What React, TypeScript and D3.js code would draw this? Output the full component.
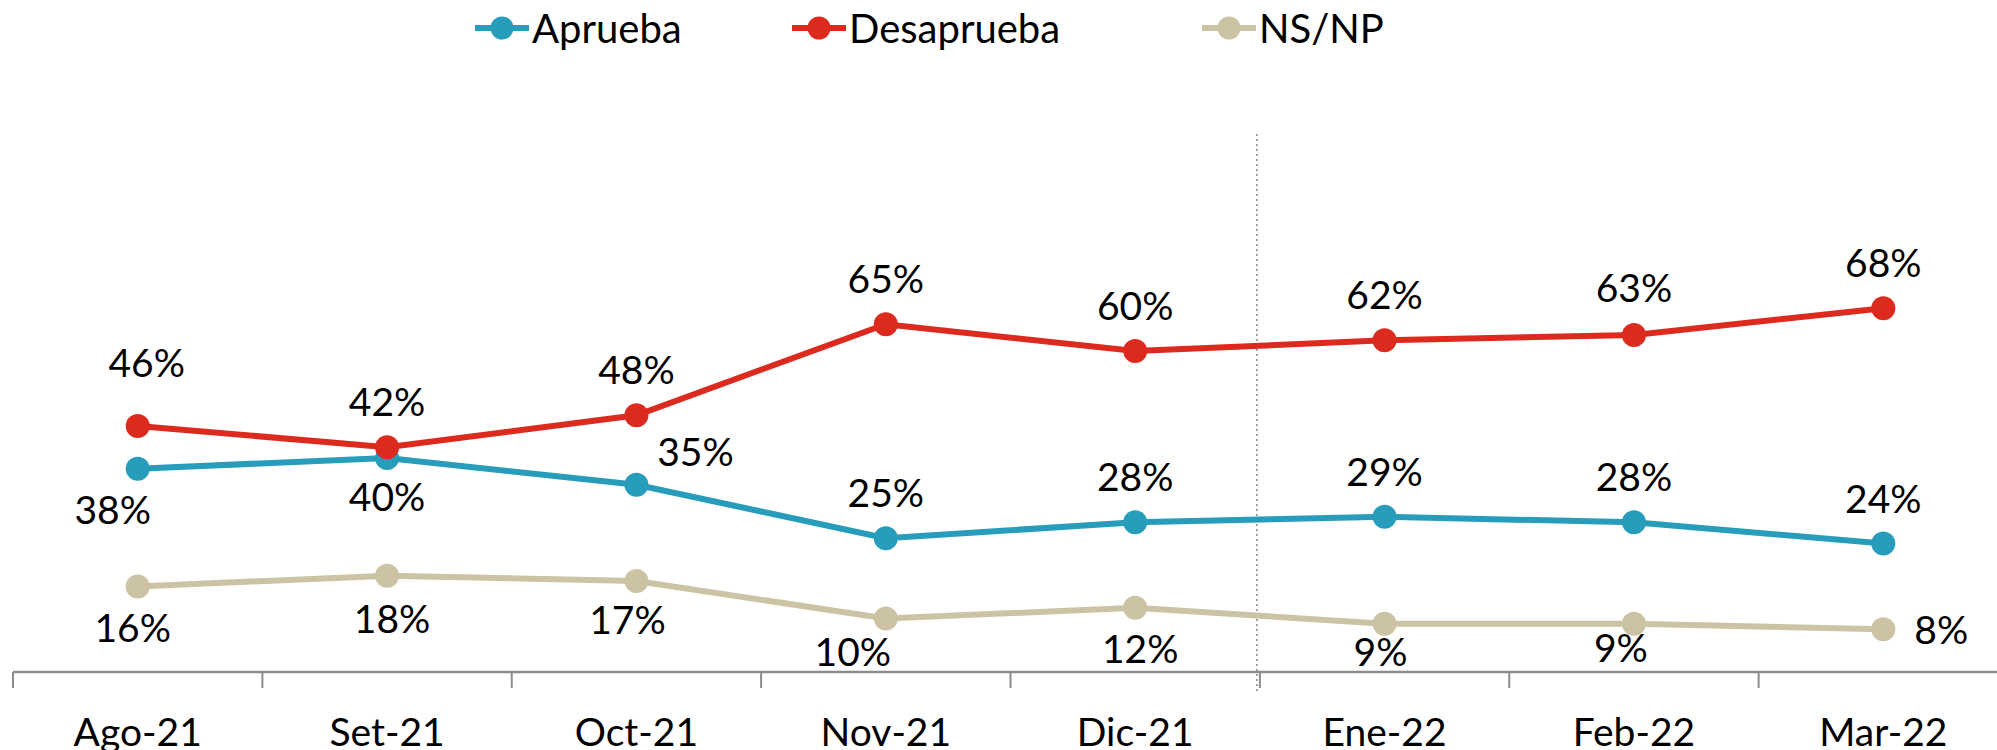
import React from "react";
import * as d3 from "d3";

const categories = ["Ago-21", "Set-21", "Oct-21", "Nov-21", "Dic-21", "Ene-22", "Feb-22", "Mar-22"];
const aprueba = [38, 40, 35, 25, 28, 29, 28, 24];
const desaprueba = [46, 42, 48, 65, 60, 62, 63, 68];
const nsnp = [16, 18, 17, 10, 12, 9, 9, 8];
const seriesNames = ["Aprueba", "Desaprueba", "NS/NP"];
const colors = ["#279cbb", "#dc2a1f", "#cbc3a3"];

// label placement offsets (dx, dy) per point
const placements = [
  [[-25, 40], [0, 38], [59, -34], [0, -46], [0, -46], [0, -46], [0, -46], [0, -46]],
  [[9, -64], [0, -46], [0, -46], [0, -46], [0, -46], [0, -46], [0, -48], [0, -46]],
  [[-5, 41], [5, 42], [-9, 38], [-33, 32], [5, 40], [-4, 27], [-13, 23], [58, 0]],
];

const W = 1997;
const H = 750;
const FONT = "Lato, 'Open Sans', sans-serif";

export default function App() {
  const x = d3.scaleBand<string>().domain(categories).range([13, 2008]);
  const y = d3.scaleLinear().domain([0, 100]).range([672, 137]);
  const cx = (c: string) => (x(c) as number) + x.bandwidth() / 2;
  const data = [aprueba, desaprueba, nsnp];
  const line = d3
    .line<number>()
    .x((_, i) => cx(categories[i]))
    .y((v) => y(v));
  const axisY = y(0);
  const boundaries = categories.map((c) => x(c) as number);
  const dividerX = x("Ene-22") as number;

  const legendX = [475, 792, 1202];

  return (
    <svg width={W} height={H} style={{ position: "absolute", left: 0, top: 0, background: "#fff" }} fontFamily={FONT}>
      {/* legend */}
      {seriesNames.map((name, i) => (
        <g key={name}>
          <line x1={legendX[i]} x2={legendX[i] + 54} y1={28} y2={28} stroke={colors[i]} strokeWidth={6} />
          <circle cx={legendX[i] + 27} cy={28} r={11.5} fill={colors[i]} />
          <text x={legendX[i] + 57} y={28} dominantBaseline="central" fontSize={40} fill="#000">
            {name}
          </text>
        </g>
      ))}

      {/* divider */}
      <line x1={dividerX - 3} x2={dividerX - 3} y1={134} y2={694} stroke="#888" strokeWidth={1.5} strokeDasharray="2,3" />

      {/* axis */}
      <line x1={13} x2={W} y1={axisY} y2={axisY} stroke="#8c8c8c" strokeWidth={2.5} />
      {boundaries.map((b, i) => (
        <line key={i} x1={b} x2={b} y1={axisY} y2={axisY + 16} stroke="#8c8c8c" strokeWidth={2} />
      ))}
      {categories.map((c) => (
        <text key={c} x={cx(c)} y={731} textAnchor="middle" dominantBaseline="central" fontSize={39} fill="#000">
          {c}
        </text>
      ))}

      {/* series */}
      {data.map((vals, s) => (
        <g key={s}>
          <path d={line(vals) || ""} fill="none" stroke={colors[s]} strokeWidth={6} />
          {vals.map((v, i) => (
            <circle key={i} cx={cx(categories[i])} cy={y(v)} r={12} fill={colors[s]} />
          ))}
        </g>
      ))}
      {data.map((vals, s) =>
        vals.map((v, i) => (
          <text
            key={`${s}-${i}`}
            x={cx(categories[i]) + placements[s][i][0]}
            y={y(v) + placements[s][i][1]}
            textAnchor="middle"
            dominantBaseline="central"
            fontSize={39}
            fill="#000"
          >
            {v}%
          </text>
        ))
      )}
    </svg>
  );
}
